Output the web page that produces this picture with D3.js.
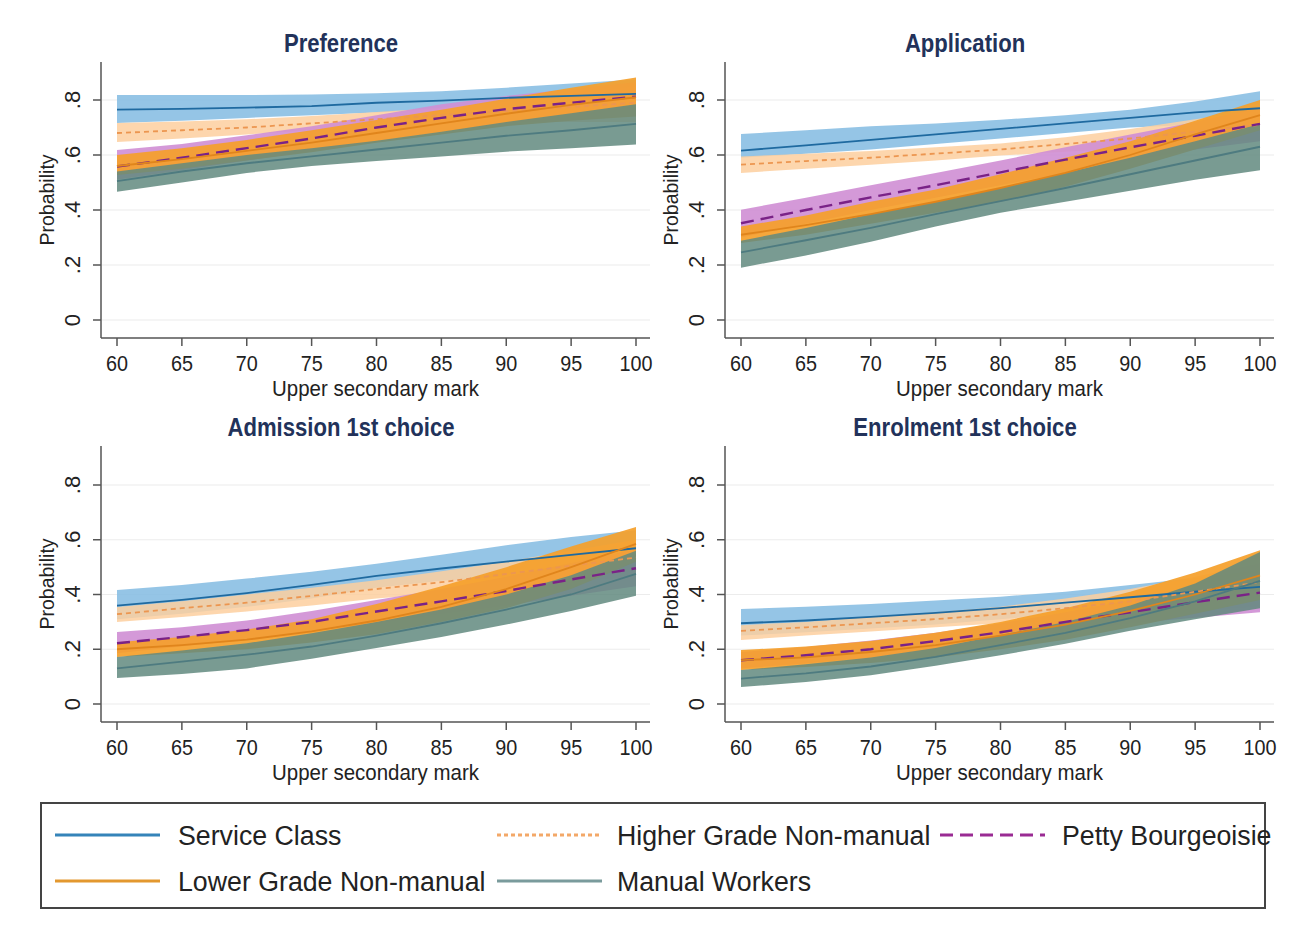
<!DOCTYPE html>
<html>
<head>
<meta charset="utf-8">
<script src="https://cdn.jsdelivr.net/npm/d3@7"></script>
<style>
  body { margin: 0; background: #fff; }
  svg { display: block; font-family: "Liberation Sans", Arial, sans-serif; }
</style>
</head>
<body>
<svg width="1300" height="937"></svg>
<script>
// upper secondary mark values where the margins were computed
const marks = [60, 65, 70, 75, 80, 85, 90, 95, 100];
const xTicks = [60, 65, 70, 75, 80, 85, 90, 95, 100];
const yTicks = [0, 0.2, 0.4, 0.6, 0.8];
const yTickLabels = ["0", ".2", ".4", ".6", ".8"];
const panelTitles = ["Preference", "Application", "Admission 1st choice", "Enrolment 1st choice"];
const groups = ["Service Class", "Higher Grade Non-manual", "Petty Bourgeoisie", "Lower Grade Non-manual", "Manual Workers"];

// rows: service, higher grade, petty bourgeoisie, lower grade, manual
const prefFit = [
  [.765, .768, .772, .778, .79, .798, .808, .815, .822],
  [.68, .69, .70, .715, .73, .745, .76, .775, .79],
  [.558, .59, .625, .66, .70, .735, .767, .79, .812],
  [.56, .585, .615, .645, .68, .715, .75, .782, .81],
  [.505, .54, .57, .595, .62, .645, .67, .69, .713]
];
const prefLo = [
  [.716, .725, .735, .745, .755, .765, .77, .772, .772],
  [.647, .66, .675, .69, .705, .715, .72, .72, .72],
  [.51, .545, .58, .615, .65, .685, .715, .74, .76],
  [.527, .55, .58, .61, .645, .675, .705, .725, .74],
  [.466, .50, .535, .56, .578, .595, .612, .625, .638]
];
const prefHi = [
  [.818, .818, .818, .82, .825, .832, .845, .86, .875],
  [.716, .722, .73, .742, .756, .772, .795, .82, .85],
  [.618, .64, .672, .705, .745, .785, .815, .84, .865],
  [.60, .625, .655, .69, .727, .765, .805, .845, .882],
  [.54, .57, .60, .625, .652, .685, .72, .752, .785]
];

const applFit = [
  [.616, .635, .655, .675, .695, .715, .735, .755, .77],
  [.565, .578, .59, .605, .62, .64, .66, .685, .71],
  [.352, .40, .446, .49, .537, .583, .628, .67, .713],
  [.31, .345, .385, .43, .48, .535, .60, .675, .745],
  [.246, .29, .335, .385, .432, .48, .53, .58, .63]
];
const applLo = [
  [.59, .605, .62, .64, .66, .68, .70, .71, .715],
  [.535, .55, .565, .58, .598, .612, .625, .64, .655],
  [.30, .35, .40, .445, .49, .535, .58, .62, .65],
  [.28, .31, .35, .39, .43, .485, .55, .62, .69],
  [.19, .235, .285, .34, .39, .43, .47, .51, .545]
];
const applHi = [
  [.676, .69, .705, .715, .728, .745, .765, .795, .832],
  [.595, .605, .615, .628, .642, .665, .695, .73, .765],
  [.401, .445, .49, .535, .58, .628, .675, .72, .775],
  [.34, .38, .43, .475, .53, .59, .65, .725, .80],
  [.288, .335, .385, .43, .48, .535, .59, .65, .713]
];

const admFit = [
  [.359, .38, .405, .435, .468, .495, .52, .545, .569],
  [.328, .35, .37, .395, .42, .445, .475, .505, .535],
  [.222, .245, .27, .30, .338, .375, .413, .455, .496],
  [.20, .215, .235, .265, .305, .355, .42, .50, .585],
  [.13, .155, .18, .21, .25, .295, .345, .40, .475]
];
const admLo = [
  [.31, .33, .355, .385, .425, .45, .465, .48, .50],
  [.30, .318, .338, .36, .385, .405, .425, .445, .465],
  [.185, .21, .235, .265, .295, .33, .36, .395, .43],
  [.172, .185, .20, .225, .255, .30, .35, .42, .52],
  [.095, .11, .13, .165, .205, .245, .29, .34, .395]
];
const admHi = [
  [.416, .435, .458, .483, .512, .545, .58, .61, .635],
  [.354, .375, .40, .425, .452, .485, .52, .56, .60],
  [.263, .28, .305, .34, .38, .42, .465, .515, .565],
  [.226, .245, .272, .31, .365, .43, .50, .575, .647],
  [.172, .195, .222, .258, .30, .345, .40, .47, .56]
];

const enrFit = [
  [.295, .305, .318, .333, .35, .37, .39, .41, .428],
  [.267, .28, .295, .31, .328, .35, .375, .41, .445],
  [.16, .178, .20, .23, .262, .30, .335, .372, .407],
  [.16, .17, .19, .215, .25, .29, .34, .40, .47],
  [.093, .112, .137, .172, .215, .26, .314, .375, .45]
];
const enrLo = [
  [.25, .262, .276, .29, .31, .33, .345, .36, .37],
  [.234, .25, .265, .28, .295, .31, .325, .34, .355],
  [.13, .148, .17, .20, .23, .265, .295, .315, .335],
  [.124, .135, .15, .17, .20, .235, .28, .33, .38],
  [.062, .08, .105, .14, .178, .22, .268, .31, .35]
];
const enrHi = [
  [.347, .355, .365, .378, .392, .41, .435, .46, .49],
  [.288, .30, .318, .335, .355, .385, .42, .465, .515],
  [.19, .208, .232, .26, .295, .335, .38, .43, .48],
  [.197, .21, .23, .26, .30, .35, .41, .48, .562],
  [.124, .145, .17, .205, .252, .30, .36, .44, .555]
];

const panelFits = [prefFit, applFit, admFit, enrFit];
const panelLows = [prefLo, applLo, admLo, enrLo];
const panelHighs = [prefHi, applHi, admHi, enrHi];

const bandColors = ["#8abfe3", "#fdcf9f", "#cf8ed4", "#f59f2a", "#62897f"];
const bandOpacity = [0.9, 0.85, 0.9, 0.92, 0.85];
const lineColors = ["#1f6aa0", "#ec9650", "#7a2287", "#e0851c", "#4e7b80"];
const legendColors = ["#3584b9", "#f3a868", "#9a2b93", "#e3982f", "#7a9b9c"];
const dashes = [null, "5,4", "13,7", null, null];

const svg = d3.select("svg");

// helper for the slightly condensed look of the original text
function txt(g, x, y, s, size, sx, opts) {
  opts = opts || {};
  const t = g.append("text")
    .attr("transform", "translate(" + x + "," + y + ")" + (opts.rot ? " rotate(" + opts.rot + ")" : "") + " scale(" + sx + ",1)")
    .attr("text-anchor", opts.anchor || "middle")
    .attr("dy", opts.dy || "0.35em")
    .style("font-size", size + "px")
    .style("fill", opts.fill || "#222")
    .style("font-weight", opts.bold ? "bold" : "normal")
    .text(s);
  return t;
}

// panel positions: plot area left/right/top/bottom
const panels = [
  {l: 101, r: 650, t: 62, b: 338, x60: 117, x100: 636, y0: 320, y8: 100, tx: 341, ty: 43},
  {l: 725, r: 1274, t: 62, b: 338, x60: 741, x100: 1260, y0: 320, y8: 100, tx: 965, ty: 43},
  {l: 101, r: 650, t: 446, b: 722, x60: 117, x100: 636, y0: 704, y8: 485, tx: 341, ty: 427},
  {l: 725, r: 1274, t: 446, b: 722, x60: 741, x100: 1260, y0: 704, y8: 485, tx: 965, ty: 427}
];

panels.forEach(function(p, k) {
  const x = d3.scaleLinear().domain([60, 100]).range([p.x60, p.x100]);
  const y = d3.scaleLinear().domain([0, 0.8]).range([p.y0, p.y8]);
  const g = svg.append("g").attr("class", "panel");

  // grid
  g.selectAll("line.grid").data(yTicks).enter().append("line")
    .attr("x1", p.l + 1).attr("x2", p.r)
    .attr("y1", d => y(d)).attr("y2", d => y(d))
    .style("stroke", "#ececec").style("stroke-width", 1.2);

  const fits = panelFits[k], lows = panelLows[k], highs = panelHighs[k];

  // confidence bands first
  groups.forEach(function(name, i) {
    const area = d3.area()
      .x((d, j) => x(marks[j]))
      .y0((d, j) => y(lows[i][j]))
      .y1((d, j) => y(highs[i][j]));
    g.append("path")
      .datum(marks)
      .attr("d", area)
      .style("fill", bandColors[i])
      .style("fill-opacity", bandOpacity[i]);
  });

  // fitted lines on top
  groups.forEach(function(name, i) {
    const line = d3.line()
      .x((d, j) => x(marks[j]))
      .y((d, j) => y(fits[i][j]));
    g.append("path")
      .datum(marks)
      .attr("d", line)
      .style("fill", "none")
      .style("stroke", lineColors[i])
      .style("stroke-width", i === 2 ? 2.4 : 1.8)
      .style("stroke-dasharray", dashes[i]);
  });

  // axes
  g.append("line").attr("x1", p.l).attr("x2", p.l).attr("y1", p.t).attr("y2", p.b)
    .style("stroke", "#555").style("stroke-width", 1.5);
  g.append("line").attr("x1", p.l).attr("x2", p.r).attr("y1", p.b).attr("y2", p.b)
    .style("stroke", "#555").style("stroke-width", 1.5);

  g.selectAll("line.yt").data(yTicks).enter().append("line")
    .attr("x1", p.l - 8).attr("x2", p.l)
    .attr("y1", d => y(d)).attr("y2", d => y(d))
    .style("stroke", "#555").style("stroke-width", 1.5);
  g.selectAll("line.xt").data(xTicks).enter().append("line")
    .attr("x1", d => x(d)).attr("x2", d => x(d))
    .attr("y1", p.b).attr("y2", p.b + 8)
    .style("stroke", "#555").style("stroke-width", 1.5);

  xTicks.forEach(function(d) {
    txt(g, x(d), p.b + 25, String(d), 22, 0.9);
  });
  yTicks.forEach(function(d, i) {
    txt(g, p.l - 29, y(d), yTickLabels[i], 22, 1, {rot: -90});
  });

  txt(g, (p.l + p.r) / 2, p.b + 50, "Upper secondary mark", 22, 0.93);
  txt(g, p.l - 54, (p.t + p.b) / 2, "Probability", 21, 0.93, {rot: -90});
  txt(g, p.tx, p.ty, panelTitles[k], 26, 0.85, {bold: true, fill: "#22325a"});
});

// legend
const legend = svg.append("g").attr("id", "legend");
legend.append("rect")
  .attr("x", 41).attr("y", 803).attr("width", 1224).attr("height", 105)
  .style("fill", "#fff").style("stroke", "#444").style("stroke-width", 2);

const legendPos = [
  {lx: 55, tx: 178, y: 835},
  {lx: 497, tx: 617, y: 835},
  {lx: 940, tx: 1062, y: 835},
  {lx: 55, tx: 178, y: 881},
  {lx: 497, tx: 617, y: 881}
];
groups.forEach(function(name, i) {
  const lp = legendPos[i];
  legend.append("line")
    .attr("x1", lp.lx).attr("x2", lp.lx + 105)
    .attr("y1", lp.y).attr("y2", lp.y)
    .style("stroke", legendColors[i])
    .style("stroke-width", 3)
    .style("stroke-dasharray", i === 1 ? "4,3" : dashes[i]);
  txt(legend, lp.tx, lp.y, name, 28, 0.955, {anchor: "start"});
});
</script>
</body>
</html>
